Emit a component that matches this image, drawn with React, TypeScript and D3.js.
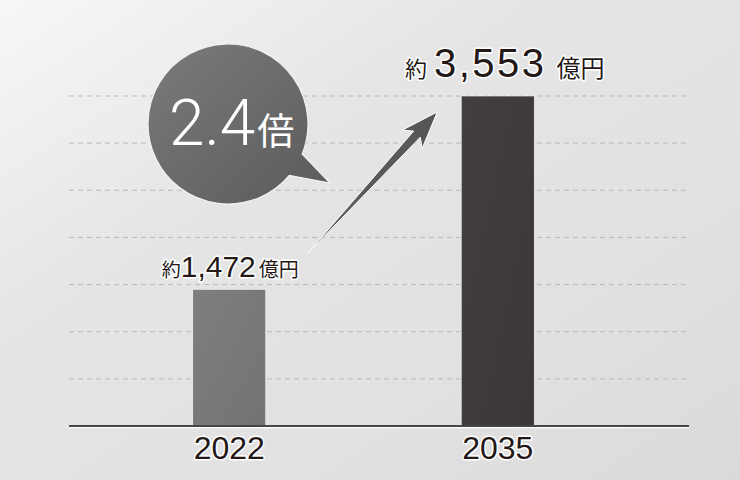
import { useMemo } from "react";
import * as d3 from "d3";

const years = ["2022", "2035"];
const values = [1472, 3553];
const valueLabels = ["1,472", "3,553"];
const ratioLabel = "2.4";
const gridCount = 7;

const W = 740;
const H = 480;
const JP = "'Noto Sans CJK JP', sans-serif";
const NUM = "'Liberation Sans', Arial, sans-serif";
const INK = "#231815";

export default function App() {
  const x = useMemo(
    () => d3.scaleBand<string>().domain(years).range([95, 632]).paddingInner(0.728).paddingOuter(0.364),
    []
  );
  const y = useMemo(() => d3.scaleLinear().domain([0, d3.max(values) as number]).range([426, 96]), []);

  // dashed guides split the max value evenly
  const grid = d3.range(1, gridCount + 1).map((i) => ((d3.max(values) as number) * i) / gridCount);

  const halo = { stroke: "#fff", strokeWidth: 3, paintOrder: "stroke" as const, strokeLinejoin: "round" as const };

  // arrow from small label to big label
  const x0 = (x(years[0]) as number) + x.bandwidth();
  const s: [number, number] = [x0 + 42, y(values[0]) - 36];
  const t: [number, number] = [(x(years[1]) as number) - 24, y(values[1]) + 16];
  const dx = t[0] - s[0];
  const dy = t[1] - s[1];
  const len = Math.hypot(dx, dy);
  const u = [dx / len, dy / len];
  const n = [-u[1], u[0]];
  const at = (d: number, w: number) => [t[0] - u[0] * d + n[0] * w, t[1] - u[1] * d + n[1] * w].join(",");
  const arrow = [
    t.join(","),
    at(37, 13.5),
    at(30, 4.5),
    s.join(","),
    at(30, -4.5),
    at(37, -13.5),
  ].join(" ");

  // speech bubble
  const cx = 228;
  const cy = 124;
  const r = 80;
  const pt = (a: number) => [cx + r * Math.cos((a * Math.PI) / 180), cy + r * Math.sin((a * Math.PI) / 180)];
  const p1 = pt(22);
  const p2 = pt(40);
  const bubble = `M${p1[0]},${p1[1]} L330,183 L${p2[0]},${p2[1]} A${r},${r} 0 1 1 ${p1[0]},${p1[1]} Z`;

  return (
    <svg width={W} height={H} style={{ position: "absolute", left: 0, top: 0 }}>
      <defs>
        <linearGradient id="bg" x1="0" y1="0" x2="1" y2="1">
          <stop offset="0" stopColor="#f7f7f7" />
          <stop offset="0.35" stopColor="#e5e5e5" />
          <stop offset="0.7" stopColor="#e1e1e1" />
          <stop offset="1" stopColor="#dadada" />
        </linearGradient>
        <linearGradient id="bub" x1="0" y1="0" x2="1" y2="1">
          <stop offset="0" stopColor="#7c7b7b" />
          <stop offset="1" stopColor="#5b5a5a" />
        </linearGradient>
        <linearGradient id="bar0" x1="0" y1="0" x2="1" y2="1">
          <stop offset="0" stopColor="#7f7e7e" />
          <stop offset="1" stopColor="#747373" />
        </linearGradient>
        <linearGradient id="bar1" x1="0" y1="0" x2="1" y2="1">
          <stop offset="0" stopColor="#433f3e" />
          <stop offset="1" stopColor="#3b3736" />
        </linearGradient>
        <linearGradient id="arr" x1="0" y1="1" x2="1" y2="0">
          <stop offset="0" stopColor="#606060" />
          <stop offset="1" stopColor="#555" />
        </linearGradient>
      </defs>
      <rect width={W} height={H} fill="url(#bg)" />

      {grid.map((g, i) => (
        <line key={i} x1={69} x2={690} y1={y(g)} y2={y(g)} stroke="#b9b9b9" strokeWidth={1} strokeDasharray="5 4" />
      ))}

      {years.map((yr, i) => (
        <rect
          key={yr}
          x={x(yr)}
          y={y(values[i])}
          width={x.bandwidth()}
          height={y(0) - y(values[i])}
          fill={`url(#bar${i})`}
          stroke="#fff"
          strokeWidth={0.6}
        />
      ))}

      <line x1={69} x2={689} y1={y(0) + 1.5} y2={y(0) + 1.5} stroke="#fff" strokeWidth={1.5} />
      <line x1={69} x2={689} y1={y(0)} y2={y(0)} stroke="#4a4444" strokeWidth={2} />

      {years.map((yr) => (
        <text
          key={yr}
          x={(x(yr) as number) + x.bandwidth() / 2}
          y={459}
          textAnchor="middle"
          fontFamily={NUM}
          fontSize={32}
          fill={INK}
          {...halo}
        >
          {yr}
        </text>
      ))}

      {/* value labels */}
      <text
        x={(x(years[0]) as number) + x.bandwidth() / 2 + 1}
        y={y(values[0]) - 12}
        textAnchor="middle"
        fill={INK}
        {...halo}
      >
        <tspan fontFamily={JP} fontSize={19}>約</tspan>
        <tspan fontFamily={NUM} fontSize={30}>{valueLabels[0]}</tspan>
        <tspan fontFamily={JP} fontSize={20} dx={3}>億円</tspan>
      </text>
      <text
        x={(x(years[1]) as number) + x.bandwidth() / 2 + 7}
        y={y(values[1]) - 19}
        textAnchor="middle"
        fill={INK}
        {...halo}
      >
        <tspan fontFamily={JP} fontSize={22}>約</tspan>
        <tspan fontFamily={NUM} fontSize={40} dx={7} letterSpacing={2.5}>{valueLabels[1]}</tspan>
        <tspan fontFamily={JP} fontSize={24} dx={10}>億円</tspan>
      </text>

      <polygon points={arrow} fill="url(#arr)" stroke="#fff" strokeWidth={1} strokeLinejoin="miter" />

      <path d={bubble} fill="url(#bub)" stroke="#f2f2f2" strokeWidth={1.2} />
      <text x={169} y={145} fill="#fff">
        <tspan fontFamily="Roboto, sans-serif" fontWeight={300} fontSize={64}>{ratioLabel}</tspan>
        <tspan fontFamily={JP} fontSize={37} dx={2}>倍</tspan>
      </text>
    </svg>
  );
}
